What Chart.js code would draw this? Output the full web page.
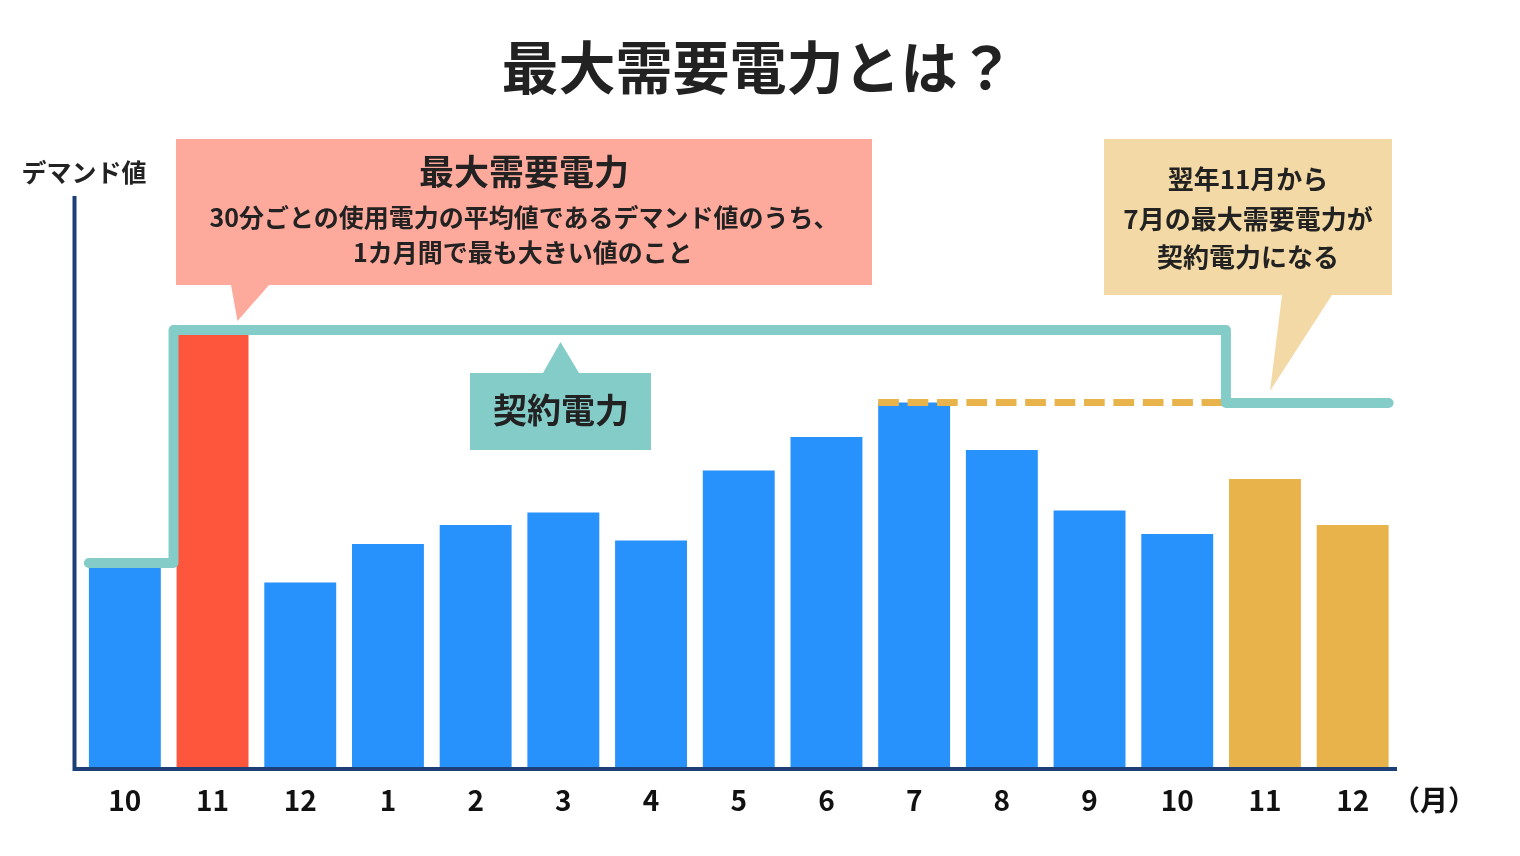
<!DOCTYPE html>
<html lang="ja">
<head>
<meta charset="utf-8">
<script src="https://cdn.jsdelivr.net/npm/chart.js@4.4.1/dist/chart.umd.min.js"></script>
<style>
  html, body { margin: 0; padding: 0; background: #ffffff; }
  #wrap { position: relative; width: 1520px; height: 856px; overflow: hidden;
          font-family: "Noto Sans CJK JP", "Noto Sans", sans-serif; font-weight: 700; color: #222222; }
  #chart { position: absolute; left: 0; top: 0; }
  #shapes { position: absolute; left: 0; top: 0; }
  .t { position: absolute; white-space: nowrap; line-height: 1; transform: translate(-50%, -50%); }
</style>
</head>
<body>
<div id="wrap">
  <canvas id="chart" width="1520" height="856"></canvas>
  <svg id="shapes" width="1520" height="856" viewBox="0 0 1520 856">
    <polygon points="176,139 872,139 872,285 269,285 237.5,321 231,285 176,285" fill="#FDA99B"/>
    <polygon points="470,373 543,373 560.5,342 579,373 651,373 651,450 470,450" fill="#84CCC8"/>
    <polygon points="1104,139 1392,139 1392,295 1332,295 1270,391 1282,295 1104,295" fill="#F3D9A5"/>
  </svg>
  <div class="t" style="left:758px; top:64px; font-size:57px;">最大需要電力とは？</div>
  <div class="t" style="left:84px; top:171px; font-size:25px;">デマンド値</div>
  <div class="t" style="left:524px; top:169px; font-size:35px;">最大需要電力</div>
  <div class="t" style="left:524px; top:216px; font-size:25px;">30分ごとの使用電力の平均値であるデマンド値のうち、</div>
  <div class="t" style="left:523px; top:251px; font-size:25px;">1カ月間で最も大きい値のこと</div>
  <div class="t" style="left:561px; top:408.5px; font-size:34px;">契約電力</div>
  <div class="t" style="left:1248px; top:177.5px; font-size:26px;">翌年11月から</div>
  <div class="t" style="left:1248px; top:217.5px; font-size:26px;">7月の最大需要電力が</div>
  <div class="t" style="left:1248px; top:256px; font-size:26px;">契約電力になる</div>
  <div class="t" style="left:1434px; top:799px; font-size:28px; color:#111111;">（月）</div>
</div>
<script>
// ---- data ----
const months = ["10", "11", "12", "1", "2", "3", "4", "5", "6", "7", "8", "9", "10", "11", "12"];
const demand = [201, 432.5, 185, 223.5, 242.5, 255, 227, 297, 330.5, 365, 317.5, 257, 233.5, 288.5, 242.5];
const contract = [204.5, 437.5, 437.5, 437.5, 437.5, 437.5, 437.5, 437.5, 437.5, 437.5, 437.5, 437.5, 437.5, 364.5, 364.5];
const barKind = ["normal", "peak", "normal", "normal", "normal", "normal", "normal", "normal", "normal", "normal", "normal", "normal", "normal", "next", "next"];
const peakMonthIndex = 9; // 7月
const yMax = 570;

// ---- styles ----
const kindColor = { normal: "#2892FC", peak: "#FE553D", next: "#E8B34A" };
const BAR_PCT = 0.82;
const half = BAR_PCT / 2;
const stepShift = 0.445;

// build step line from contract array
const contractPts = [{ x: -half, y: contract[0] }];
let stepX = null;
for (let i = 1; i < contract.length; i++) {
  if (contract[i] !== contract[i - 1]) {
    contractPts.push({ x: i - stepShift, y: contract[i - 1] });
    contractPts.push({ x: i - stepShift, y: contract[i] });
    stepX = i - stepShift;
  }
}
contractPts.push({ x: contract.length - 1 + half, y: contract[contract.length - 1] });

const refPts = [
  { x: peakMonthIndex - half, y: demand[peakMonthIndex] },
  { x: stepX, y: demand[peakMonthIndex] }
];

const axisLines = {
  id: "axisLines",
  afterDatasetsDraw(chart) {
    const { ctx, chartArea: a } = chart;
    ctx.save();
    ctx.strokeStyle = "#1D3F78";
    ctx.lineWidth = 4;
    ctx.lineCap = "butt";
    ctx.beginPath();
    ctx.moveTo(a.left - 6.5, a.top - 1.5);
    ctx.lineTo(a.left - 6.5, a.bottom + 3.5);
    ctx.moveTo(a.left - 8.5, a.bottom + 1.5);
    ctx.lineTo(a.right + 0.5, a.bottom + 1.5);
    ctx.stroke();
    ctx.restore();
  }
};

new Chart(document.getElementById("chart"), {
  type: "bar",
  data: {
    labels: months,
    datasets: [
      {
        type: "line",
        data: contractPts,
        xAxisID: "x2",
        borderColor: "#84CCC8",
        borderWidth: 10,
        borderCapStyle: "round",
        borderJoinStyle: "round",
        pointRadius: 0,
        tension: 0,
        fill: false,
        order: 0
      },
      {
        type: "line",
        data: refPts,
        xAxisID: "x2",
        borderColor: "#E8B34A",
        borderWidth: 7,
        borderDash: [20.7, 8.7],
        borderCapStyle: "butt",
        pointRadius: 0,
        tension: 0,
        fill: false,
        order: 1
      },
      {
        type: "bar",
        data: demand,
        xAxisID: "x",
        backgroundColor: barKind.map(k => kindColor[k]),
        borderWidth: 0,
        grouped: false,
        categoryPercentage: 1,
        barPercentage: BAR_PCT,
        order: 2
      }
    ]
  },
  options: {
    responsive: false,
    animation: false,
    devicePixelRatio: 1,
    layout: { padding: { left: 81, right: 123.5, top: 197.5, bottom: 0 } },
    plugins: { legend: { display: false }, tooltip: { enabled: false } },
    scales: {
      x: {
        type: "category",
        offset: true,
        grid: { display: false, drawTicks: false },
        border: { display: false },
        ticks: { color: "#111111", font: { family: "'Noto Sans CJK JP'", size: 28, weight: "bold" }, padding: 16, maxRotation: 0, autoSkip: false },
        afterFit(s) { s.height = 88.5; }
      },
      x2: {
        type: "linear",
        display: false,
        offset: false,
        grace: 0,
        min: -0.5,
        max: months.length - 0.5
      },
      y: {
        display: false,
        min: 0,
        max: yMax
      }
    }
  },
  plugins: [axisLines]
});
</script>
</body>
</html>
